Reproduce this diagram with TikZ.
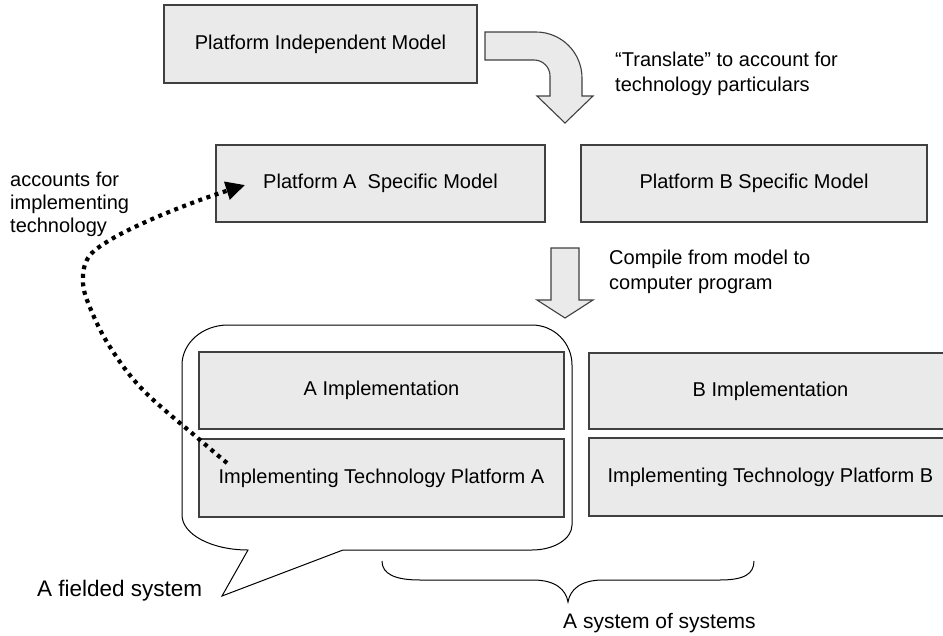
\documentclass[tikz,border=0pt]{standalone}
\usepackage{fontspec}
\setmainfont{Liberation Sans}
\usetikzlibrary{arrows.meta}
\definecolor{boxfill}{HTML}{EAEAEA}
\definecolor{boxline}{HTML}{404040}
\tikzset{
  modelbox/.style={draw=boxline, line width=1.2pt, fill=boxfill, inner sep=0pt, font=\fontsize{20}{24}\selectfont},
  bigarrow/.style={draw=boxline, line width=1.1pt, fill=boxfill, line join=miter},
  label/.style={inner sep=0pt, align=left, anchor=north west},
  bubble/.style={draw=black, line width=1pt},
  bracestyle/.style={draw=black, line width=1pt},
  dotline/.style={draw=black, line width=4.2pt, dash pattern=on 4pt off 4.6pt, -{Triangle[length=19pt,width=18pt]}}
}
\begin{document}
\begin{tikzpicture}[x=1pt,y=-1pt]
\useasboundingbox (0,0) rectangle (943,635);
\clip (0,0) rectangle (943,635);

% speech bubble (drawn first, boxes on top)
\draw[bubble] (248,550) -- (222,596) -- (343,550) -- (532,550)
  arc[start angle=90, end angle=0, x radius=40, y radius=25]
  -- (572,365)
  arc[start angle=0, end angle=-90, x radius=40, y radius=40]
  -- (228,325)
  arc[start angle=-90, end angle=-180, x radius=46, y radius=40]
  -- (182,515)
  arc[start angle=-180, end angle=-270, x radius=66, y radius=35]
  -- cycle;

% boxes
\node[modelbox, minimum width=313pt, minimum height=78pt] (pim) at (320.5,44) {Platform Independent Model};
\node[modelbox, minimum width=329pt, minimum height=77pt] (psma) at (380.5,183.5) {Platform A~~Specific Model};
\node[modelbox, minimum width=346pt, minimum height=77pt] (psmb) at (754,183.5) {Platform B Specific Model};
\node[modelbox, minimum width=365pt, minimum height=77pt] (aimpl) at (381.5,390.5) {A Implementation};
\node[modelbox, minimum width=365pt, minimum height=78pt] (atech) at (381.5,478) {Implementing Technology Platform A};
\node[modelbox, minimum width=363pt, minimum height=76pt] (bimpl) at (770.5,391) {B Implementation};
\node[modelbox, minimum width=363pt, minimum height=78pt] (btech) at (770.5,477) {Implementing Technology Platform B};

% curved "translate" arrow
\draw[bigarrow] (485,32) -- (536,32)
  arc[start angle=-90, end angle=0, radius=46]
  -- (582,96) -- (593,96) -- (565,123) -- (537,96) -- (550,96) -- (550,76)
  arc[start angle=0, end angle=-90, radius=16]
  -- (485,60) -- cycle;

% straight "compile" arrow
\draw[bigarrow] (551,248) -- (579,248) -- (579,300) -- (593,300) -- (565,318)
  -- (537,300) -- (551,300) -- cycle;

% labels
\node[label, font=\fontsize{20}{25}\selectfont] (translate) at (615,52) {“Translate” to account for\\technology particulars};
\node[label, font=\fontsize{20}{25}\selectfont] (compile) at (609,250) {Compile from model to\\computer program};
\node[label, font=\fontsize{20}{23}\selectfont] (accounts) at (10,172) {accounts for\\implementing\\technology};
\node[inner sep=0pt, anchor=base west, font=\fontsize{22.5}{26}\selectfont] (fielded) at (37,596) {A fielded system};
\node[inner sep=0pt, anchor=base west, font=\fontsize{21}{25}\selectfont] (sos) at (563,628) {A system of systems};

% brace
\draw[bracestyle] (382,561) .. controls (382,574) and (395,580) .. (420,580)
  -- (533,580) .. controls (556,580) and (566,590) .. (568,602)
  .. controls (570,590) and (580,580) .. (603,580)
  -- (720,580) .. controls (744,580) and (754,574) .. (754,561);

% dotted connector
\coordinate (dstart) at (227,463);
\coordinate (dend) at (245,185);
\draw[dotline] plot[smooth, tension=0.6] coordinates {(dstart) (200,440) (143,390) (110,347) (91,310) (83,283) (88,258) (110,240) (150,220) (200,200) (dend)};
\end{tikzpicture}
\end{document}
